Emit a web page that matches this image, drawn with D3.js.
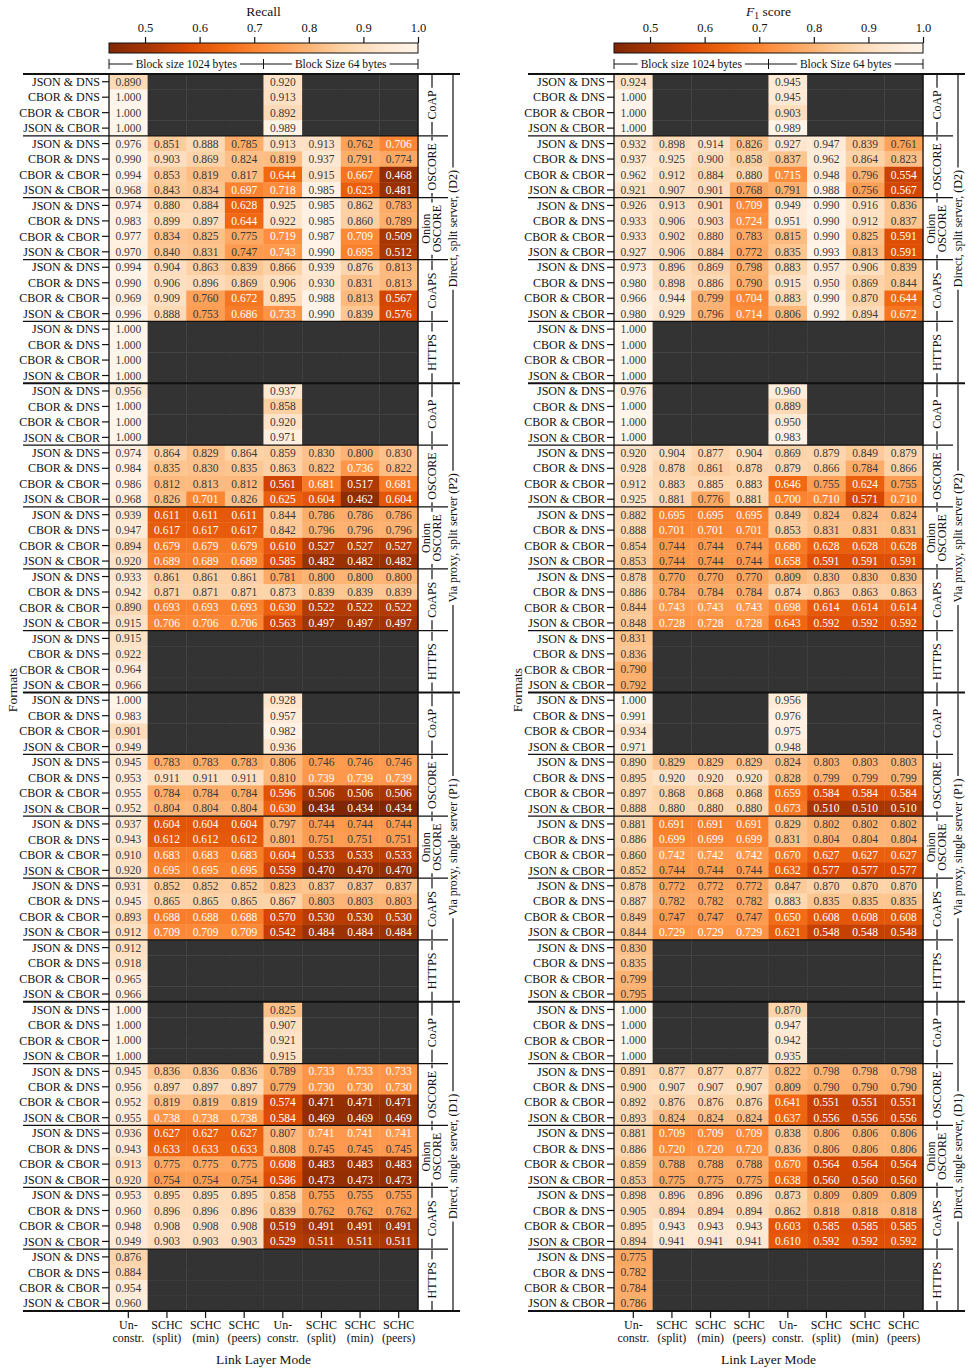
<!DOCTYPE html>
<html><head><meta charset="utf-8">
<script src="https://cdn.jsdelivr.net/npm/d3@7"></script>
<style>
body{margin:0;background:#fff}
text{font-family:"Liberation Serif","Times New Roman",serif;fill:#111}
</style>
</head><body>
<svg id="c" width="972" height="1372"></svg>
<script>
const N = null;
const columns = ["Un-|constr.","SCHC|(split)","SCHC|(min)","SCHC|(peers)","Un-|constr.","SCHC|(split)","SCHC|(min)","SCHC|(peers)"];
const formats = ["JSON & DNS","CBOR & DNS","CBOR & CBOR","JSON & CBOR"];
const protocols = ["CoAP","OSCORE","Onion|OSCORE","CoAPS","HTTPS"];
const scenarios = ["Direct, split server, (D2)","Via proxy, split server (P2)","Via proxy, single server (P1)","Direct, single server, (D1)"];
const colorTicks = [0.5,0.6,0.7,0.8,0.9,1.0];
const colorMin = 0.434, colorMax = 1.0;
const blockLabels = ["Block size 1024 bytes","Block Size 64 bytes"];

// ---------- Recall ----------
const recallD2 = [
 [0.890,N,N,N,0.920,N,N,N],[1.000,N,N,N,0.913,N,N,N],[1.000,N,N,N,0.892,N,N,N],[1.000,N,N,N,0.989,N,N,N],
 [0.976,0.851,0.888,0.785,0.913,0.913,0.762,0.706],[0.990,0.903,0.869,0.824,0.819,0.937,0.791,0.774],
 [0.994,0.853,0.819,0.817,0.644,0.915,0.667,0.468],[0.968,0.843,0.834,0.697,0.718,0.985,0.623,0.481],
 [0.974,0.880,0.884,0.628,0.925,0.985,0.862,0.783],[0.983,0.899,0.897,0.644,0.922,0.985,0.860,0.789],
 [0.977,0.834,0.825,0.775,0.719,0.987,0.709,0.509],[0.970,0.840,0.831,0.747,0.743,0.990,0.695,0.512],
 [0.994,0.904,0.863,0.839,0.866,0.939,0.876,0.813],[0.990,0.906,0.896,0.869,0.906,0.930,0.831,0.813],
 [0.969,0.909,0.760,0.672,0.895,0.988,0.813,0.567],[0.996,0.888,0.753,0.686,0.733,0.990,0.839,0.576],
 [1.000,N,N,N,N,N,N,N],[1.000,N,N,N,N,N,N,N],[1.000,N,N,N,N,N,N,N],[1.000,N,N,N,N,N,N,N]
];
const recallP2 = [
 [0.956,N,N,N,0.937,N,N,N],[1.000,N,N,N,0.858,N,N,N],[1.000,N,N,N,0.920,N,N,N],[1.000,N,N,N,0.971,N,N,N],
 [0.974,0.864,0.829,0.864,0.859,0.830,0.800,0.830],[0.984,0.835,0.830,0.835,0.863,0.822,0.736,0.822],
 [0.986,0.812,0.813,0.812,0.561,0.681,0.517,0.681],[0.968,0.826,0.701,0.826,0.625,0.604,0.462,0.604],
 [0.939,0.611,0.611,0.611,0.844,0.786,0.786,0.786],[0.947,0.617,0.617,0.617,0.842,0.796,0.796,0.796],
 [0.894,0.679,0.679,0.679,0.610,0.527,0.527,0.527],[0.920,0.689,0.689,0.689,0.585,0.482,0.482,0.482],
 [0.933,0.861,0.861,0.861,0.781,0.800,0.800,0.800],[0.942,0.871,0.871,0.871,0.873,0.839,0.839,0.839],
 [0.890,0.693,0.693,0.693,0.630,0.522,0.522,0.522],[0.915,0.706,0.706,0.706,0.563,0.497,0.497,0.497],
 [0.915,N,N,N,N,N,N,N],[0.922,N,N,N,N,N,N,N],[0.964,N,N,N,N,N,N,N],[0.966,N,N,N,N,N,N,N]
];
const recallP1 = [
 [1.000,N,N,N,0.928,N,N,N],[0.983,N,N,N,0.957,N,N,N],[0.901,N,N,N,0.982,N,N,N],[0.949,N,N,N,0.936,N,N,N],
 [0.945,0.783,0.783,0.783,0.806,0.746,0.746,0.746],[0.953,0.911,0.911,0.911,0.810,0.739,0.739,0.739],
 [0.955,0.784,0.784,0.784,0.596,0.506,0.506,0.506],[0.952,0.804,0.804,0.804,0.630,0.434,0.434,0.434],
 [0.937,0.604,0.604,0.604,0.797,0.744,0.744,0.744],[0.943,0.612,0.612,0.612,0.801,0.751,0.751,0.751],
 [0.910,0.683,0.683,0.683,0.604,0.533,0.533,0.533],[0.920,0.695,0.695,0.695,0.559,0.470,0.470,0.470],
 [0.931,0.852,0.852,0.852,0.823,0.837,0.837,0.837],[0.945,0.865,0.865,0.865,0.867,0.803,0.803,0.803],
 [0.893,0.688,0.688,0.688,0.570,0.530,0.530,0.530],[0.912,0.709,0.709,0.709,0.542,0.484,0.484,0.484],
 [0.912,N,N,N,N,N,N,N],[0.918,N,N,N,N,N,N,N],[0.965,N,N,N,N,N,N,N],[0.966,N,N,N,N,N,N,N]
];
const recallD1 = [
 [1.000,N,N,N,0.825,N,N,N],[1.000,N,N,N,0.907,N,N,N],[1.000,N,N,N,0.921,N,N,N],[1.000,N,N,N,0.915,N,N,N],
 [0.945,0.836,0.836,0.836,0.789,0.733,0.733,0.733],[0.956,0.897,0.897,0.897,0.779,0.730,0.730,0.730],
 [0.952,0.819,0.819,0.819,0.574,0.471,0.471,0.471],[0.955,0.738,0.738,0.738,0.584,0.469,0.469,0.469],
 [0.936,0.627,0.627,0.627,0.807,0.741,0.741,0.741],[0.943,0.633,0.633,0.633,0.808,0.745,0.745,0.745],
 [0.913,0.775,0.775,0.775,0.608,0.483,0.483,0.483],[0.920,0.754,0.754,0.754,0.586,0.473,0.473,0.473],
 [0.953,0.895,0.895,0.895,0.858,0.755,0.755,0.755],[0.960,0.896,0.896,0.896,0.839,0.762,0.762,0.762],
 [0.948,0.908,0.908,0.908,0.519,0.491,0.491,0.491],[0.949,0.903,0.903,0.903,0.529,0.511,0.511,0.511],
 [0.876,N,N,N,N,N,N,N],[0.884,N,N,N,N,N,N,N],[0.954,N,N,N,N,N,N,N],[0.960,N,N,N,N,N,N,N]
];

// ---------- F1 score ----------
const f1D2 = [
 [0.924,N,N,N,0.945,N,N,N],[1.000,N,N,N,0.945,N,N,N],[1.000,N,N,N,0.903,N,N,N],[1.000,N,N,N,0.989,N,N,N],
 [0.932,0.898,0.914,0.826,0.927,0.947,0.839,0.761],[0.937,0.925,0.900,0.858,0.837,0.962,0.864,0.823],
 [0.962,0.912,0.884,0.880,0.715,0.948,0.796,0.554],[0.921,0.907,0.901,0.768,0.791,0.988,0.756,0.567],
 [0.926,0.913,0.901,0.709,0.949,0.990,0.916,0.836],[0.933,0.906,0.903,0.724,0.951,0.990,0.912,0.837],
 [0.933,0.902,0.880,0.783,0.815,0.990,0.825,0.591],[0.927,0.906,0.884,0.772,0.835,0.993,0.813,0.591],
 [0.973,0.896,0.869,0.798,0.883,0.957,0.906,0.839],[0.980,0.898,0.886,0.790,0.915,0.950,0.869,0.844],
 [0.966,0.944,0.799,0.704,0.883,0.990,0.870,0.644],[0.980,0.929,0.796,0.714,0.806,0.992,0.894,0.672],
 [1.000,N,N,N,N,N,N,N],[1.000,N,N,N,N,N,N,N],[1.000,N,N,N,N,N,N,N],[1.000,N,N,N,N,N,N,N]
];
const f1P2 = [
 [0.976,N,N,N,0.960,N,N,N],[1.000,N,N,N,0.889,N,N,N],[1.000,N,N,N,0.950,N,N,N],[1.000,N,N,N,0.983,N,N,N],
 [0.920,0.904,0.877,0.904,0.869,0.879,0.849,0.879],[0.928,0.878,0.861,0.878,0.879,0.866,0.784,0.866],
 [0.912,0.883,0.885,0.883,0.646,0.755,0.624,0.755],[0.925,0.881,0.776,0.881,0.700,0.710,0.571,0.710],
 [0.882,0.695,0.695,0.695,0.849,0.824,0.824,0.824],[0.888,0.701,0.701,0.701,0.853,0.831,0.831,0.831],
 [0.854,0.744,0.744,0.744,0.680,0.628,0.628,0.628],[0.853,0.744,0.744,0.744,0.658,0.591,0.591,0.591],
 [0.878,0.770,0.770,0.770,0.809,0.830,0.830,0.830],[0.886,0.784,0.784,0.784,0.874,0.863,0.863,0.863],
 [0.844,0.743,0.743,0.743,0.698,0.614,0.614,0.614],[0.848,0.728,0.728,0.728,0.643,0.592,0.592,0.592],
 [0.831,N,N,N,N,N,N,N],[0.836,N,N,N,N,N,N,N],[0.790,N,N,N,N,N,N,N],[0.792,N,N,N,N,N,N,N]
];
const f1P1 = [
 [1.000,N,N,N,0.956,N,N,N],[0.991,N,N,N,0.976,N,N,N],[0.934,N,N,N,0.975,N,N,N],[0.971,N,N,N,0.948,N,N,N],
 [0.890,0.829,0.829,0.829,0.824,0.803,0.803,0.803],[0.895,0.920,0.920,0.920,0.828,0.799,0.799,0.799],
 [0.897,0.868,0.868,0.868,0.659,0.584,0.584,0.584],[0.888,0.880,0.880,0.880,0.673,0.510,0.510,0.510],
 [0.881,0.691,0.691,0.691,0.829,0.802,0.802,0.802],[0.886,0.699,0.699,0.699,0.831,0.804,0.804,0.804],
 [0.860,0.742,0.742,0.742,0.670,0.627,0.627,0.627],[0.852,0.744,0.744,0.744,0.632,0.577,0.577,0.577],
 [0.878,0.772,0.772,0.772,0.847,0.870,0.870,0.870],[0.887,0.782,0.782,0.782,0.883,0.835,0.835,0.835],
 [0.849,0.747,0.747,0.747,0.650,0.608,0.608,0.608],[0.844,0.729,0.729,0.729,0.621,0.548,0.548,0.548],
 [0.830,N,N,N,N,N,N,N],[0.835,N,N,N,N,N,N,N],[0.799,N,N,N,N,N,N,N],[0.795,N,N,N,N,N,N,N]
];
const f1D1 = [
 [1.000,N,N,N,0.870,N,N,N],[1.000,N,N,N,0.947,N,N,N],[1.000,N,N,N,0.942,N,N,N],[1.000,N,N,N,0.935,N,N,N],
 [0.891,0.877,0.877,0.877,0.822,0.798,0.798,0.798],[0.900,0.907,0.907,0.907,0.809,0.790,0.790,0.790],
 [0.892,0.876,0.876,0.876,0.641,0.551,0.551,0.551],[0.893,0.824,0.824,0.824,0.637,0.556,0.556,0.556],
 [0.881,0.709,0.709,0.709,0.838,0.806,0.806,0.806],[0.886,0.720,0.720,0.720,0.836,0.806,0.806,0.806],
 [0.859,0.788,0.788,0.788,0.670,0.564,0.564,0.564],[0.853,0.775,0.775,0.775,0.638,0.560,0.560,0.560],
 [0.898,0.896,0.896,0.896,0.873,0.809,0.809,0.809],[0.905,0.894,0.894,0.894,0.862,0.818,0.818,0.818],
 [0.895,0.943,0.943,0.943,0.603,0.585,0.585,0.585],[0.894,0.941,0.941,0.941,0.610,0.592,0.592,0.592],
 [0.775,N,N,N,N,N,N,N],[0.782,N,N,N,N,N,N,N],[0.784,N,N,N,N,N,N,N],[0.786,N,N,N,N,N,N,N]
];

const recallRows = [].concat(recallD2, recallP2, recallP1, recallD1);
const f1Rows = [].concat(f1D2, f1P2, f1P1, f1D1);

// matplotlib-like "Oranges" colormap (low = dark)
const oranges = ["#fff5eb","#fee6ce","#fdd0a2","#fdae6b","#fd8d3c","#f16913","#d94801","#a63603","#7f2704"];
const color = d3.scaleLinear()
  .domain(oranges.map((c,i)=> colorMax - i*(colorMax-colorMin)/(oranges.length-1)))
  .range(oranges).interpolate(d3.interpolateRgb).clamp(true);

function lum(c){
  const r=d3.rgb(c);
  const f=v=>{v/=255;return v<=0.03928?v/12.92:Math.pow((v+0.055)/1.055,2.4);};
  return 0.2126*f(r.r)+0.7152*f(r.g)+0.0722*f(r.b);
}

const svg = d3.select("#c");
const defs = svg.append("defs");
const grad = defs.append("linearGradient").attr("id","cbar").attr("x1","0%").attr("x2","100%");
oranges.slice().reverse().forEach((c,i)=>grad.append("stop").attr("offset",(i/(oranges.length-1)*100)+"%").attr("stop-color",c));

function vbracket(g, x, yA, yB, lines, fs, lineSep){
  const yc = (yA+yB)/2;
  const t = g.append("text").attr("transform",`translate(${x},${yc}) rotate(-90)`)
    .attr("text-anchor","middle").style("font-size",fs+"px");
  const n = lines.length;
  lines.forEach((s,i)=>{
    t.append("tspan").attr("x",0).attr("y",(i-(n-1)/2)*lineSep).attr("dy","0.33em").text(s);
  });
  let len = 0;
  t.selectAll("tspan").each(function(){len=Math.max(len,this.getComputedTextLength());});
  const gap = 2.5;
  if (yc - len/2 - gap > yA) g.append("line").attr("x1",x).attr("x2",x).attr("y1",yA).attr("y2",yc-len/2-gap).attr("stroke","#111").attr("stroke-width",1.2);
  if (yc + len/2 + gap < yB) g.append("line").attr("x1",x).attr("x2",x).attr("y1",yc+len/2+gap).attr("y2",yB).attr("stroke","#111").attr("stroke-width",1.2);
}

function drawPanel(ox, rows, isF1){
  const g = svg.append("g");
  const x0 = 109+ox, x1 = 418+ox, y0 = 74, y1 = 1311;
  const xs = d3.scaleBand().domain(d3.range(columns.length)).range([x0,x1]);
  const ys = d3.scaleBand().domain(d3.range(rows.length)).range([y0,y1]);
  const bw = xs.bandwidth(), bh = ys.bandwidth();

  // title
  const title = g.append("text").attr("x",(x0+x1)/2).attr("y",16).attr("text-anchor","middle").style("font-size","13.5px");
  if (isF1){
    title.append("tspan").style("font-style","italic").text("F");
    title.append("tspan").attr("dy","3").style("font-size","9.5px").text("1");
    title.append("tspan").attr("dy","-3").text(" score");
  } else title.text("Recall");

  // colorbar
  const cs = d3.scaleLinear().domain([colorMin,colorMax]).range([x0,x1]);
  g.append("rect").attr("x",x0).attr("y",43).attr("width",x1-x0).attr("height",10)
    .attr("fill","url(#cbar)").attr("stroke","#111").attr("stroke-width",1);
  const ax = g.append("g").attr("transform","translate(0,43)")
    .call(d3.axisTop(cs).tickValues(colorTicks).tickFormat(d3.format(".1f")).tickSize(6).tickPadding(5));
  ax.select(".domain").remove();
  ax.selectAll("line").attr("stroke","#111").attr("stroke-width",1.2);
  ax.selectAll("text").style("font-size","12.5px").style("font-family",'"Liberation Serif",serif').attr("fill","#111");

  // block size bracket
  const mid = xs(4);
  const by = 64;
  [[x0,mid,blockLabels[0]],[mid,x1,blockLabels[1]]].forEach(([a,b,s])=>{
    const t = g.append("text").attr("x",(a+b)/2).attr("y",by).attr("dy","0.33em").attr("text-anchor","middle").style("font-size","11.5px").text(s);
    const L = t.node().getComputedTextLength();
    g.append("line").attr("x1",a).attr("x2",(a+b)/2-L/2-3).attr("y1",by).attr("y2",by).attr("stroke","#111");
    g.append("line").attr("x1",(a+b)/2+L/2+3).attr("x2",b).attr("y1",by).attr("y2",by).attr("stroke","#111");
  });
  [x0,mid,x1].forEach(x=>g.append("line").attr("x1",x).attr("x2",x).attr("y1",by-5).attr("y2",by+5).attr("stroke","#111"));

  // cells
  const cells = [];
  rows.forEach((r,ri)=>r.forEach((v,ci)=>cells.push({ri,ci,v})));
  g.append("g").selectAll("rect").data(cells).join("rect")
    .attr("x",d=>xs(d.ci)).attr("y",d=>ys(d.ri)).attr("width",bw+0.4).attr("height",bh+0.4)
    .attr("fill",d=>d.v==null?"#333333":color(d.v));
  g.append("g").selectAll("text").data(cells.filter(d=>d.v!=null)).join("text")
    .attr("x",d=>xs(d.ci)+bw/2).attr("y",d=>ys(d.ri)+bh/2).attr("dy","0.35em")
    .attr("text-anchor","middle").style("font-size","11.5px")
    .style("fill",d=>lum(color(d.v))>0.445?"#3a3a3a":"#ffffff")
    .text(d=>d.v.toFixed(3));

  // row labels
  rows.forEach((r,ri)=>{
    const yc = ys(ri)+bh/2;
    g.append("text").attr("x",x0-9).attr("y",yc).attr("dy","0.35em").attr("text-anchor","end").style("font-size","12px").text(formats[ri%formats.length]);
    g.append("line").attr("x1",x0-7).attr("x2",x0).attr("y1",yc).attr("y2",yc).attr("stroke","#111").attr("stroke-width",1.2);
  });

  // vertical borders
  [x0,x1].forEach(x=>g.append("line").attr("x1",x).attr("x2",x).attr("y1",y0).attr("y2",y1).attr("stroke","#111").attr("stroke-width",1.3));

  // separators
  const nGroups = scenarios.length*protocols.length;
  for (let k=0;k<=nGroups;k++){
    const y = k===nGroups ? y1 : ys(k*formats.length);
    const major = k%protocols.length===0;
    g.append("line").attr("x1",ox+23).attr("x2",ox+(major?460:448)).attr("y1",y).attr("y2",y)
      .attr("stroke","#111").attr("stroke-width",major?2.2:1.3);
  }

  // protocol labels
  for (let k=0;k<nGroups;k++){
    const yA = ys(k*formats.length), yB = k===nGroups-1 ? y1 : ys((k+1)*formats.length);
    const p = protocols[k%protocols.length].split("|");
    vbracket(g, ox+432, yA+1, yB-1, p, 12, 11);
  }
  // scenario labels
  scenarios.forEach((s,si)=>{
    const yA = ys(si*protocols.length*formats.length);
    const yB = si===scenarios.length-1 ? y1 : ys((si+1)*protocols.length*formats.length);
    vbracket(g, ox+453, yA+1, yB-1, [s], 12, 11);
  });

  // x axis
  columns.forEach((c,ci)=>{
    const xc = xs(ci)+bw/2;
    g.append("line").attr("x1",xc).attr("x2",xc).attr("y1",y1).attr("y2",y1+7).attr("stroke","#111").attr("stroke-width",1.2);
    const parts = c.split("|");
    parts.forEach((s,i)=>g.append("text").attr("x",xc).attr("y",1325+i*13).attr("dy","0.35em").attr("text-anchor","middle").style("font-size","12px").text(s));
  });
  g.append("text").attr("x",(x0+x1)/2).attr("y",1359).attr("dy","0.35em").attr("text-anchor","middle").style("font-size","13.5px").text("Link Layer Mode");
  g.append("text").attr("transform",`translate(${ox+12},690) rotate(-90)`).attr("text-anchor","middle").attr("dy","0.35em").style("font-size","13.5px").text("Formats");
}

drawPanel(0, recallRows, false);
drawPanel(505, f1Rows, true);
</script>
</body></html>
